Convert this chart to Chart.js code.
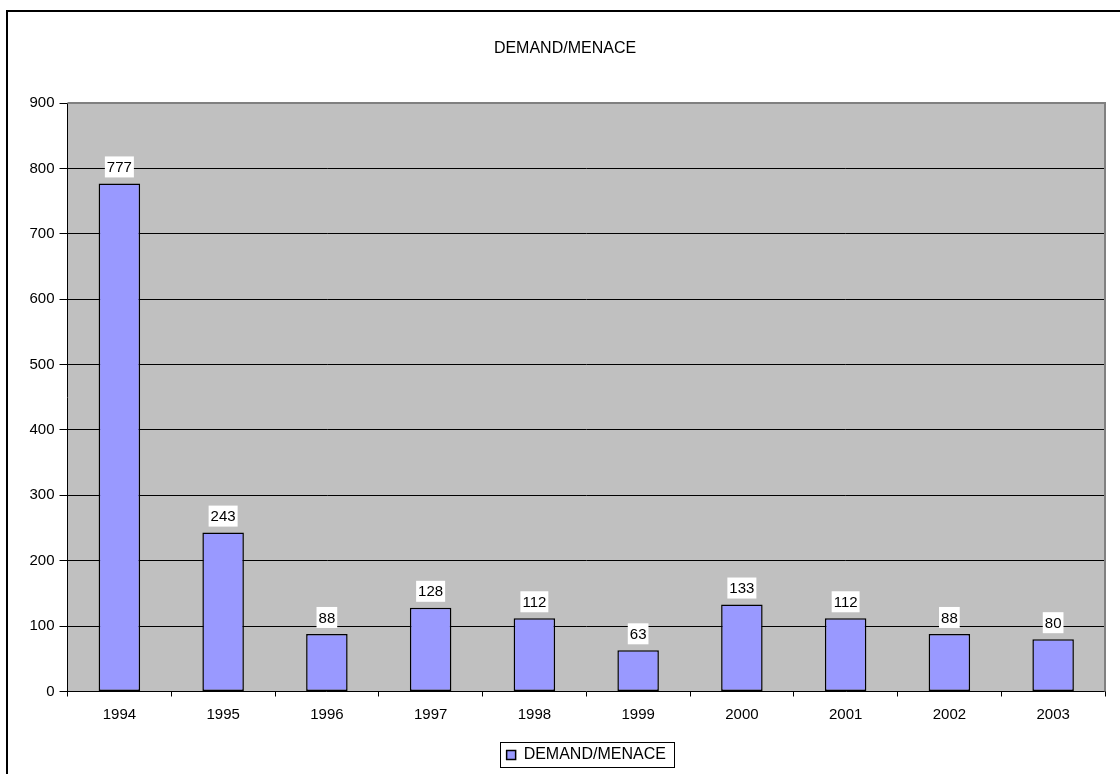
<!DOCTYPE html>
<html>
<head>
<meta charset="utf-8">
<script src="https://cdn.jsdelivr.net/npm/chart.js@4/dist/chart.umd.min.js"></script>
<style>
  html, body { margin: 0; padding: 0; background: #fff; }
  #wrap { width: 1120px; height: 774px; position: relative; }
</style>
</head>
<body>
<div id="wrap"><canvas id="c" width="1120" height="774"></canvas></div>
<script>
const chartTitle = "DEMAND/MENACE";
const seriesName = "DEMAND/MENACE";
const categories = ["1994", "1995", "1996", "1997", "1998", "1999", "2000", "2001", "2002", "2003"];
const values = [777, 243, 88, 128, 112, 63, 133, 112, 88, 80];
const yTicks = [0, 100, 200, 300, 400, 500, 600, 700, 800, 900];

const FONT = "Arial, 'Liberation Sans', sans-serif";

const framePlugin = {
  id: 'frame',
  beforeDraw(chart) {
    const ctx = chart.ctx;
    const a = chart.chartArea;
    ctx.save();
    ctx.fillStyle = '#ffffff';
    ctx.fillRect(0, 0, chart.width, chart.height);
    ctx.strokeStyle = '#000000';
    ctx.lineWidth = 2;
    ctx.strokeRect(7, 11, chart.width + 20, chart.height + 20);
    ctx.fillStyle = '#C0C0C0';
    ctx.fillRect(a.left, a.top, a.right - a.left, a.bottom - a.top);
    ctx.restore();
  },
  beforeDatasetsDraw(chart) {
    const ctx = chart.ctx;
    const a = chart.chartArea;
    ctx.save();
    ctx.strokeStyle = '#808080';
    ctx.lineWidth = 2;
    ctx.beginPath();
    ctx.moveTo(a.left, a.top);
    ctx.lineTo(a.right, a.top);
    ctx.lineTo(a.right, a.bottom);
    ctx.stroke();
    ctx.restore();
  },
  afterDatasetsDraw(chart) {
    const ctx = chart.ctx;
    const meta = chart.getDatasetMeta(0);
    ctx.save();
    ctx.font = '15px ' + FONT;
    ctx.textAlign = 'center';
    ctx.textBaseline = 'middle';
    meta.data.forEach((bar, i) => {
      const txt = String(chart.data.datasets[0].data[i]);
      const w = ctx.measureText(txt).width + 4;
      const h = 21;
      const bottom = bar.y - 6;
      ctx.fillStyle = '#ffffff';
      ctx.fillRect(bar.x - w / 2, bottom - h, w, h);
      ctx.fillStyle = '#000000';
      ctx.fillText(txt, bar.x, bottom - h / 2 + 1);
    });
    ctx.restore();
  },
  afterDraw(chart) {
    const lg = chart.legend;
    if (!lg || !lg.legendHitBoxes || !lg.legendHitBoxes.length) return;
    const hb = lg.legendHitBoxes[0];
    const ctx = chart.ctx;
    ctx.save();
    ctx.strokeStyle = '#000000';
    ctx.lineWidth = 1;
    ctx.strokeRect(Math.round(hb.left) - 6.5, Math.round(hb.top + hb.height / 2) - 12.5, Math.round(hb.width) + 15, 25);
    ctx.restore();
  }
};

new Chart(document.getElementById('c'), {
  type: 'bar',
  data: {
    labels: categories,
    datasets: [{
      label: seriesName,
      data: values,
      backgroundColor: '#9999FF',
      borderColor: '#000000',
      borderWidth: 1.5,
      borderSkipped: false,
      barPercentage: 0.4,
      categoryPercentage: 1.0
    }]
  },
  options: {
    responsive: false,
    animation: false,
    layout: { padding: { left: 25, right: 15, top: 0, bottom: 1 } },
    plugins: {
      title: {
        display: true,
        text: chartTitle,
        color: '#000000',
        font: { family: FONT, size: 16, weight: 'normal' },
        padding: { top: 38.5, bottom: 45.3 }
      },
      legend: {
        display: true,
        position: 'bottom',
        fullSize: false,
        labels: {
          color: '#000000',
          font: { family: FONT, size: 16 },
          boxWidth: 9,
          boxHeight: 9,
          padding: 8
        }
      },
      tooltip: { enabled: false }
    },
    scales: {
      x: {
        offset: true,
        grid: {
          display: true,
          offset: true,
          drawOnChartArea: false,
          drawTicks: true,
          tickLength: 5,
          tickColor: '#000000'
        },
        border: { display: true, color: '#000000', width: 1 },
        ticks: {
          color: '#000000',
          font: { family: FONT, size: 15 },
          padding: 9,
          maxRotation: 0
        },
        afterFit(scale) { scale.height = 47.5; }
      },
      y: {
        min: 0,
        max: 900,
        afterBuildTicks(scale) { scale.ticks = yTicks.map(v => ({ value: v })); },
        grid: {
          color(ctx) {
            const v = ctx.tick ? ctx.tick.value : 0;
            if (v === 0 || v === 900) return 'rgba(0,0,0,0)';
            return '#000000';
          },
          lineWidth: 1,
          drawTicks: true,
          tickLength: 8,
          tickColor: '#000000'
        },
        border: { display: true, color: '#000000', width: 1 },
        ticks: {
          color: '#000000',
          font: { family: FONT, size: 15 },
          padding: 5
        },
        afterFit(scale) { scale.width = 42.5; }
      }
    }
  },
  plugins: [framePlugin]
});
</script>
</body>
</html>
